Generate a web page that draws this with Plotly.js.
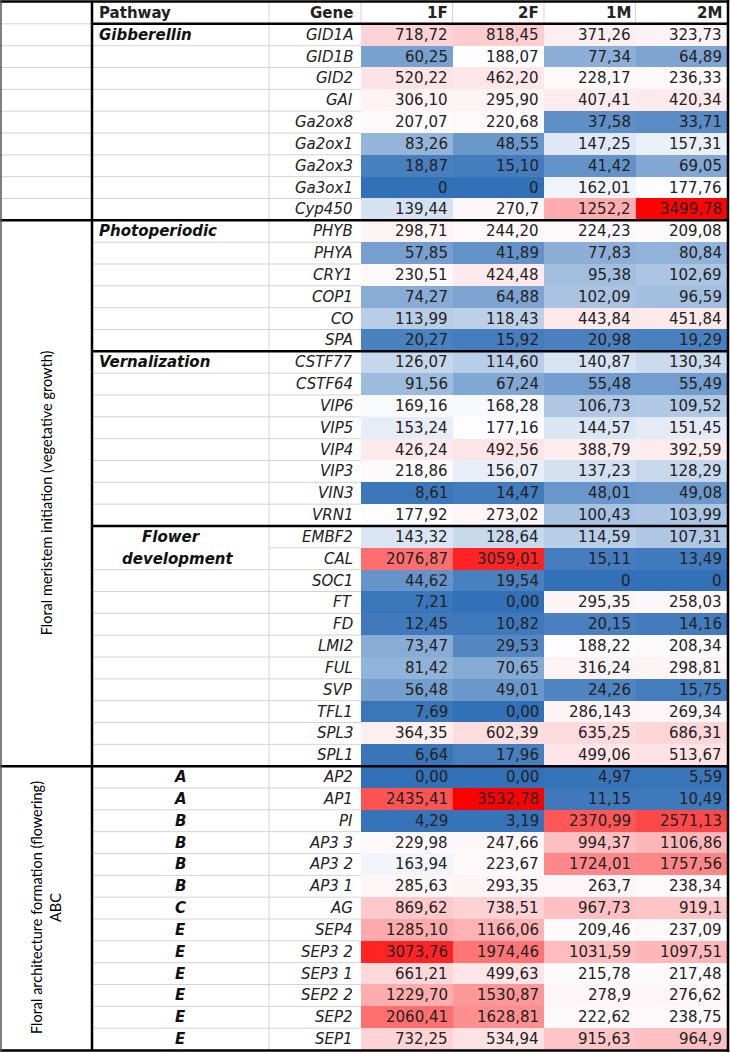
<!DOCTYPE html>
<html>
<head>
<meta charset="utf-8">
<script src="https://cdn.plot.ly/plotly-3.0.1.min.js"></script>
<style>html,body{margin:0;padding:0;background:#fff;}#chart{width:730px;height:1053px;}</style>
</head>
<body>
<div id="chart"></div>
<script>
// ---------------- data ----------------
const columns = ['1F', '2F', '1M', '2M'];
const headerLabels = ['Pathway', 'Gene'];

const genes = ['GID1A','GID1B','GID2','GAI','Ga2ox8','Ga2ox1','Ga2ox3','Ga3ox1','Cyp450',
  'PHYB','PHYA','CRY1','COP1','CO','SPA',
  'CSTF77','CSTF64','VIP6','VIP5','VIP4','VIP3','VIN3','VRN1',
  'EMBF2','CAL','SOC1','FT','FD','LMI2','FUL','SVP','TFL1','SPL3','SPL1',
  'AP2','AP1','PI','AP3 3','AP3 2','AP3 1','AG','SEP4','SEP3 2','SEP3 1','SEP2 2','SEP2','SEP1'];

const pathways = ['Gibberellin', 'Photoperiodic', 'Vernalization', 'Flower development', 'ABC'];
const pathwaySizes = [9, 6, 8, 11, 13];
const abcClasses = ['A','A','B','B','B','B','C','E','E','E','E','E','E'];

const stages = ['', 'Floral meristem initiation (vegetative growth)', 'Floral architecture formation (flowering)<br>ABC'];
const stageSizes = [9, 25, 13];

const v1F = ['718,72','60,25','520,22','306,10','207,07','83,26','18,87','0','139,44',
  '298,71','57,85','230,51','74,27','113,99','20,27',
  '126,07','91,56','169,16','153,24','426,24','218,86','8,61','177,92',
  '143,32','2076,87','44,62','7,21','12,45','73,47','81,42','56,48','7,69','364,35','6,64',
  '0,00','2435,41','4,29','229,98','163,94','285,63','869,62','1285,10','3073,76','661,21','1229,70','2060,41','732,25'];
const v2F = ['818,45','188,07','462,20','295,90','220,68','48,55','15,10','0','270,7',
  '244,20','41,89','424,48','64,88','118,43','15,92',
  '114,60','67,24','168,28','177,16','492,56','156,07','14,47','273,02',
  '128,64','3059,01','19,54','0,00','10,82','29,53','70,65','49,01','0,00','602,39','17,96',
  '0,00','3532,78','3,19','247,66','223,67','293,35','738,51','1166,06','1974,46','499,63','1530,87','1628,81','534,94'];
const v1M = ['371,26','77,34','228,17','407,41','37,58','147,25','41,42','162,01','1252,2',
  '224,23','77,83','95,38','102,09','443,84','20,98',
  '140,87','55,48','106,73','144,57','388,79','137,23','48,01','100,43',
  '114,59','15,11','0','295,35','20,15','188,22','316,24','24,26','286,143','635,25','499,06',
  '4,97','11,15','2370,99','994,37','1724,01','263,7','967,73','209,46','1031,59','215,78','278,9','222,62','915,63'];
const v2M = ['323,73','64,89','236,33','420,34','33,71','157,31','69,05','177,76','3499,78',
  '209,08','80,84','102,69','96,59','451,84','19,29',
  '130,34','55,49','109,52','151,45','392,59','128,29','49,08','103,99',
  '107,31','13,49','0','258,03','14,16','208,34','298,81','15,75','269,34','686,31','513,67',
  '5,59','10,49','2571,13','1106,86','1757,56','238,34','919,1','237,09','1097,51','217,48','276,62','238,75','964,9'];

// ---------------- build ----------------
const cols = [v1F, v2F, v1M, v2M];
const num = s => parseFloat(s.replace(',', '.'));
const nRows = genes.length;
const z = genes.map((g, i) => cols.map(c => num(c[i])));
const texts = genes.map((g, i) => cols.map(c => c[i]));

const all = z.flat().slice().sort((a, b) => a - b);
const zmax = all[all.length - 1], zmin = all[0];
const mid = (all[all.length / 2 - 1] + all[all.length / 2]) / 2;  // 50th percentile
const BLUE = '#3270b7', WHITE = '#fdfdff', RED = '#ff0000';

// geometry helpers (pixel -> data x)
const W = 730, H = 1053, ML = 0, MR = 3, MT = 2, MB = 3;
const NUM_LEFT = 361;
const UNIT = (W - ML - MR - NUM_LEFT) / 4;
const X = px => -0.5 + (px - NUM_LEFT) / UNIT;
const COL_LEFT = 92, COL_GENE = 269;

const FONT = 'DejaVu Sans';
const TXT = '#222';
const annotations = [];
const shapes = [];

// header
annotations.push({x: X(97), y: -1, text: '<b>' + headerLabels[0] + '</b>', xanchor: 'left', showarrow: false, font: {family: FONT, size: 15, color: TXT}});
annotations.push({x: X(NUM_LEFT), xshift: -6, y: -1, text: '<b>' + headerLabels[1] + '</b>', xanchor: 'right', showarrow: false, font: {family: FONT, size: 15, color: TXT}});
columns.forEach((c, j) => annotations.push({x: j + 0.5, xshift: -3, y: -1, text: '<b>' + c + '</b>', xanchor: 'right', showarrow: false, font: {family: FONT, size: 15, color: TXT}}));

// values
texts.forEach((row, i) => row.forEach((t, j) => annotations.push({
  x: j + 0.5, xshift: -3, y: i, text: t, xanchor: 'right', showarrow: false,
  font: {family: FONT, size: 15, color: TXT}
})));

// genes
genes.forEach((g, i) => annotations.push({
  x: X(NUM_LEFT), xshift: -6, y: i, text: '<i>' + g + '</i>', xanchor: 'right', showarrow: false,
  font: {family: FONT, size: 15, color: TXT}
}));

// pathway labels
let start = 0;
const bounds = [];
pathways.forEach((p, k) => {
  if (p === 'ABC') {
    abcClasses.forEach((a, m) => annotations.push({x: X(180), y: start + m, text: '<b><i>' + a + '</i></b>', xanchor: 'center', showarrow: false, font: {family: FONT, size: 15, color: '#111'}}));
  } else if (k === 3) {
    p.split(' ').forEach((w, m) => annotations.push({x: X(m === 0 ? 171 : 178), y: start + m, text: '<b><i>' + w + '</i></b>', xanchor: 'center', showarrow: false, font: {family: FONT, size: 15, color: '#111'}}));
  } else {
    annotations.push({x: X(97), y: start, text: '<b><i>' + p + '</i></b>', xanchor: 'left', showarrow: false, font: {family: FONT, size: 15, color: '#111'}});
  }
  start += pathwaySizes[k];
  bounds.push(start);
});

// stage labels (vertical)
let s0 = 0;
stages.forEach((s, k) => {
  if (s) {
    annotations.push({x: X(46), y: s0 + (stageSizes[k] - 1) / 2, text: s, textangle: -90, xanchor: 'center', yanchor: 'middle', showarrow: false,
      font: {family: 'Lato', size: 14.5, color: '#000'}});
  }
  s0 += stageSizes[k];
});

// grid lines
const GRAY = '#d3d3d3';
const line = (x0, x1, y0, y1, color, width) => shapes.push({type: 'line', xref: 'x', yref: 'y', x0, x1, y0, y1, line: {color, width}, layer: 'above'});
for (let i = 1; i < nRows; i++) {
  const y = i - 0.5;
  if (i === 24) line(X(COL_GENE), X(NUM_LEFT), y, y, GRAY, 1);
  else line(X(COL_LEFT), X(NUM_LEFT), y, y, GRAY, 1);
  if (i < stageSizes[0]) line(X(0), X(COL_LEFT), y, y, GRAY, 1);
}
line(X(0), X(COL_LEFT), -0.5, -0.5, GRAY, 1);
line(X(COL_GENE), X(COL_GENE), -1.5, nRows - 0.5, GRAY, 1);
[NUM_LEFT, NUM_LEFT + UNIT, NUM_LEFT + 2 * UNIT, NUM_LEFT + 3 * UNIT].forEach(px => line(X(px), X(px), -1.5, -0.5, GRAY, 1));

// thick black lines
const BLK = '#000';
line(X(COL_LEFT), 3.5, -0.5, -0.5, BLK, 2.5);
bounds.slice(0, -1).forEach((b, k) => {
  const full = (b === stageSizes[0] || b === stageSizes[0] + stageSizes[1]);
  line(full ? X(0) : X(COL_LEFT), 3.5, b - 0.5, b - 0.5, BLK, 2.5);
});
line(X(COL_LEFT), X(COL_LEFT), -1.5, nRows - 0.5, BLK, 2.5);
// outer borders (paper refs)
const pw = W - ML - MR;
const border = (x0, x1, y0, y1, color, width) => shapes.push({type: 'line', xref: 'paper', yref: 'paper', x0, x1, y0, y1, line: {color, width}, layer: 'above'});
border(0, 1.003, 1.0005, 1.0005, BLK, 2.5);
border(0, 1.003, -0.0005, -0.0005, BLK, 2.5);
border(1 + 1 / pw, 1 + 1 / pw, -0.002, 1.002, BLK, 2.5);
border(1 / pw, 1 / pw, -0.002, 1.002, '#555', 1.5);

const trace = {
  type: 'heatmap',
  x: columns.map((c, j) => j),
  y: genes.map((g, i) => i),
  z: z,
  zmin: zmin, zmax: zmax,
  colorscale: [[0, BLUE], [(mid - zmin) / (zmax - zmin), WHITE], [1, RED]],
  showscale: false,
  hoverinfo: 'skip',
  xgap: 0, ygap: 0
};

const layout = {
  width: W, height: H,
  margin: {l: ML, r: MR, t: MT, b: MB, pad: 0},
  paper_bgcolor: '#fff', plot_bgcolor: '#fff',
  xaxis: {range: [X(0), 3.5], visible: false, fixedrange: true},
  yaxis: {range: [nRows - 0.5, -1.5], visible: false, fixedrange: true},
  showlegend: false,
  annotations: annotations,
  shapes: shapes
};

Plotly.newPlot('chart', [trace], layout, {displayModeBar: false, staticPlot: true});
</script>
</body>
</html>
